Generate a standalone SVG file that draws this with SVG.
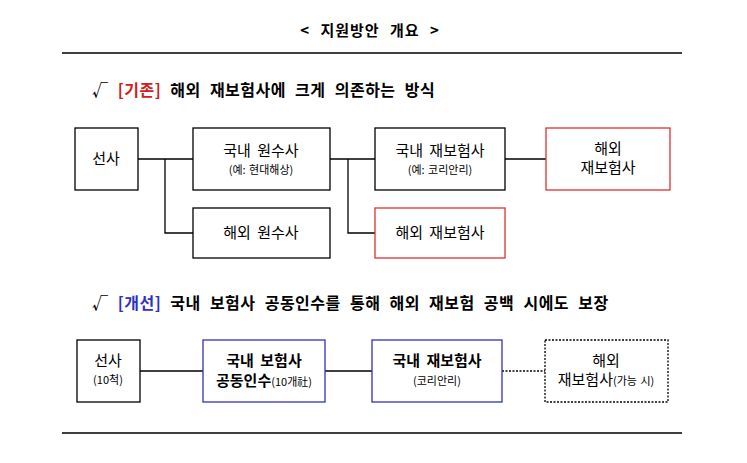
<svg xmlns="http://www.w3.org/2000/svg" width="747" height="463" viewBox="0 0 747 463">
<style>
text{font-family:"Noto Sans CJK KR","Noto Sans",sans-serif;font-size:15px;fill:#000;text-anchor:middle;word-spacing:3px}
.h{font-size:16px;font-weight:bold;text-anchor:start;word-spacing:5px;letter-spacing:0.5px}
.s{font-size:11px;word-spacing:1px}
.b{font-weight:bold}
rect{fill:#fff;stroke:#000;stroke-width:1.3}
.r{stroke:#e03030}
.bl{stroke:#3030c0}
.d{stroke-dasharray:2 1.5}
line,polyline{stroke:#000;stroke-width:1.3;fill:none}
</style>
<rect width="747" height="463" style="stroke:none"/>
<text x="370" y="36" class="b" font-size="16" style="word-spacing:6px;letter-spacing:1px">&lt; 지원방안 개요 &gt;</text>
<line x1="62" y1="53" x2="682" y2="53"/>
<line x1="62" y1="433" x2="682" y2="433"/>
<text x="92" y="96" class="h">√ <tspan fill="#d02020">[기존]</tspan> 해외 재보험사에 크게 의존하는 방식</text>
<text x="92" y="309" class="h">√ <tspan fill="#3030c0">[개선]</tspan> 국내 보험사 공동인수를 통해 해외 재보험 공백 시에도 보장</text>
<g id="connectors">
<line x1="138" y1="159" x2="193" y2="159"/>
<polyline points="165,159 165,233 193,233"/>
<line x1="330" y1="159" x2="375" y2="159"/>
<polyline points="348,159 348,233 375,233"/>
<line x1="505" y1="159" x2="546" y2="159"/>
<line x1="140" y1="371" x2="203" y2="371"/>
<line x1="325" y1="371" x2="372" y2="371"/>
<line x1="502" y1="371" x2="545" y2="371" stroke-dasharray="2 1.5"/>
</g>
<g id="n1"><rect x="75" y="128" width="63" height="62"/><text x="106" y="164">선사</text></g>
<g id="n2"><rect x="193" y="128" width="137" height="62"/><text x="261" y="156">국내 원수사</text><text x="261" y="174" class="s">(예: 현대해상)</text></g>
<g id="n3"><rect x="193" y="208" width="137" height="50"/><text x="261" y="238">해외 원수사</text></g>
<g id="n4"><rect x="375" y="128" width="130" height="62"/><text x="440" y="156">국내 재보험사</text><text x="440" y="174" class="s">(예: 코리안리)</text></g>
<g id="n5"><rect class="r" x="546" y="128" width="124" height="62"/><text x="608" y="154">해외</text><text x="608" y="173">재보험사</text></g>
<g id="n6"><rect class="r" x="375" y="208" width="130" height="50"/><text x="440" y="238">해외 재보험사</text></g>
<g id="m1"><rect x="77" y="340" width="63" height="62"/><text x="108" y="366">선사</text><text x="108" y="384" class="s">(10척)</text></g>
<g id="m2"><rect class="bl" x="203" y="340" width="122" height="62"/><text x="264" y="366" class="b">국내 보험사</text><text x="264" y="386" class="b">공동인수<tspan class="s" font-weight="normal">(10개社)</tspan></text></g>
<g id="m3"><rect class="bl" x="372" y="340" width="130" height="62"/><text x="437" y="366" class="b">국내 재보험사</text><text x="437" y="385" class="s">(코리안리)</text></g>
<g id="m4"><rect class="d" x="545" y="340" width="123" height="62"/><text x="606" y="366">해외</text><text x="606" y="385">재보험사<tspan class="s">(가능 시)</tspan></text></g>
</svg>
